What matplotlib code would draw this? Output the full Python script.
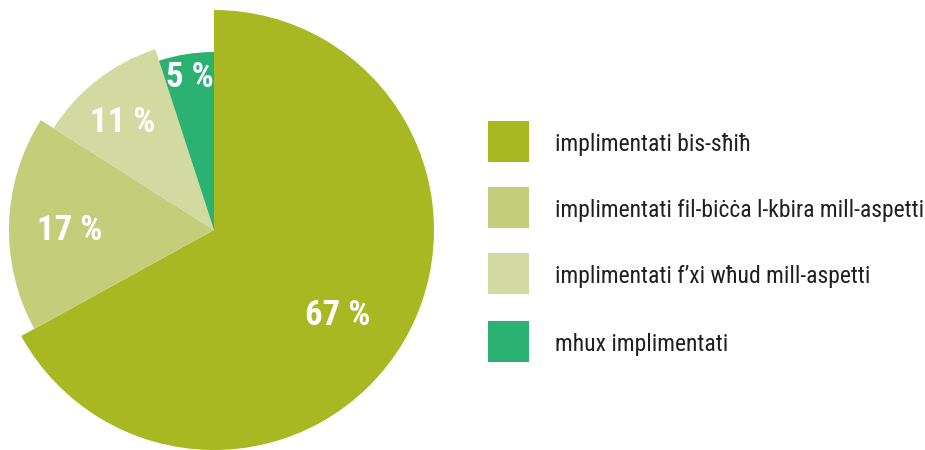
import matplotlib
matplotlib.use("Agg")
import matplotlib.pyplot as plt
from matplotlib.patches import Rectangle
from matplotlib.transforms import offset_copy
import numpy as np

categories = ["implimentati bis-sħiħ",
              "implimentati fil-biċċa l-kbira mill-aspetti",
              "implimentati f’xi wħud mill-aspetti",
              "mhux implimentati"]
values = [67, 17, 11, 5]
value_labels = ["67 %", "17 %", "11 %", "5 %"]

colors = ["#A8B822", "#C4CE7A", "#D2DAA2", "#2BB171"]
radii = [1.0, 0.932, 0.864, 0.809]
label_dist = [0.678, 0.655, 0.649, 0.715]
label_dang = [-3.2, 1.0, 1.8, -0.2]

plt.rcParams['font.family'] = ['Roboto Condensed', 'Liberation Sans Narrow', 'DejaVu Sans Condensed', 'DejaVu Sans']

W, H = 925, 450
fig = plt.figure(figsize=(W / 100, H / 100), dpi=100)
fig.patch.set_facecolor("white")

# pie axes: centre at (214, 230) px from top-left, radius 220 px
cx, cy, R = 214, 230, 220
ax = fig.add_axes([(cx - R) / W, (H - cy - R) / H, 2 * R / W, 2 * R / H])
wedges, _ = ax.pie(values, colors=colors, startangle=90, counterclock=False,
                   radius=1.0, wedgeprops=dict(linewidth=0))
for w, r in zip(wedges, radii):
    w.set_radius(r)
lab_tr = offset_copy(ax.transData, fig=fig, x=0, y=-12.4, units='dots')
for w, lab, d, da in zip(wedges, value_labels, label_dist, label_dang):
    mid = np.deg2rad((w.theta1 + w.theta2) / 2 + da)
    ax.text(d * np.cos(mid), d * np.sin(mid), lab, ha="center", va="baseline",
            color="white", fontsize=25, fontweight="bold", transform=lab_tr)
ax.set_xlim(-1, 1)
ax.set_ylim(-1, 1)
ax.set_aspect("equal")
ax.axis("off")

# legend
box = 41
rows_y = [141.5, 207.5, 273.5, 341.5]
for c, lab, y in zip(colors, categories, rows_y):
    fig.patches.append(Rectangle((488 / W, (H - y - box / 2) / H), box / W, box / H,
                                 transform=fig.transFigure, facecolor=c, edgecolor="none"))
    fig.text(555 / W, (H - y - 9) / H, lab, ha="left", va="baseline",
             fontsize=17, color="#231F20")

fig.savefig("out.png", dpi=100, facecolor="white")
